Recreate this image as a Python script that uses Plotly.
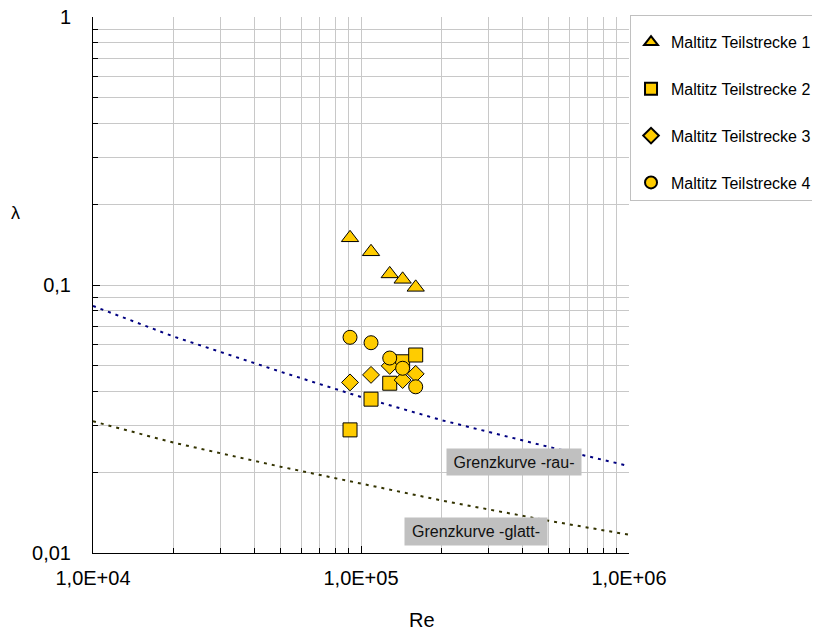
import plotly.graph_objects as go

# ---- data ----
re_meas = [91000, 109000, 128000, 143000, 160000]
lam_t1 = [0.150, 0.133, 0.110, 0.105, 0.098]
lam_t2 = [0.0288, 0.0375, 0.0430, 0.0517, 0.0548]
lam_t3 = [0.0433, 0.0462, 0.0499, 0.0442, 0.0466]
lam_t4 = [0.0638, 0.0609, 0.0534, 0.0489, 0.0417]

re_curve = [10000, 20000, 50000, 100000, 200000, 500000, 1000000]
lam_rau = [0.0835, 0.0642, 0.0475, 0.0382, 0.0313, 0.0249, 0.0211]
lam_glatt = [0.0310, 0.0258, 0.0210, 0.0181, 0.0157, 0.0132, 0.0117]

series_names = ["Maltitz Teilstrecke 1", "Maltitz Teilstrecke 2",
                "Maltitz Teilstrecke 3", "Maltitz Teilstrecke 4"]
series_vals = [lam_t1, lam_t2, lam_t3, lam_t4]
symbols = ["triangle-up", "square", "diamond", "circle"]
sizes = [15, 14, 13, 14]

x_tickvals = [1e4, 1e5, 1e6]
x_ticktext = ["1,0E+04", "1,0E+05", "1,0E+06"]
y_tickvals = [0.01, 0.1, 1]
y_ticktext = ["0,01", "0,1", "1"]

FONT = "Arial, 'Liberation Sans', sans-serif"

fig = go.Figure()
fig.add_trace(go.Scatter(x=re_curve, y=lam_rau, mode="lines", showlegend=False,
                         line=dict(color="#000080", width=2, dash="3px,5px"),
                         hoverinfo="skip"))
fig.add_trace(go.Scatter(x=re_curve, y=lam_glatt, mode="lines", showlegend=False,
                         line=dict(color="#333300", width=2, dash="3px,5px"),
                         hoverinfo="skip"))
for i, (nm, vals) in enumerate(zip(series_names, series_vals)):
    fig.add_trace(go.Scatter(
        x=re_meas, y=vals, mode="markers", name=nm, legendgroup=f"g{i}",
        marker=dict(symbol=symbols[i], size=sizes[i], color="#FFCC00",
                    line=dict(color="black", width=1))))

grid = "#c8c8c8"
fig.update_xaxes(type="log", range=[4, 6], tickmode="array",
                 tickvals=x_tickvals, ticktext=x_ticktext,
                 showline=True, linecolor="black", linewidth=1, mirror=False,
                 ticks="inside", ticklen=7, tickcolor="black",
                 showgrid=True, gridcolor=grid, gridwidth=1,
                 tickfont=dict(family=FONT, size=20, color="black"),
                 ticklabelstandoff=7, ticklabeloverflow="allow", zeroline=False,
                 minor=dict(dtick="D1", ticks="inside", ticklen=5, tickcolor="black",
                            showgrid=True, gridcolor=grid, gridwidth=1))
fig.update_yaxes(type="log", range=[-2, 0], tickmode="array",
                 tickvals=y_tickvals, ticktext=y_ticktext,
                 showline=True, linecolor="black", linewidth=1, mirror=False,
                 ticks="inside", ticklen=7, tickcolor="black",
                 showgrid=True, gridcolor=grid, gridwidth=1,
                 tickfont=dict(family=FONT, size=20, color="black"),
                 ticklabelstandoff=17, ticklabeloverflow="allow", zeroline=False,
                 minor=dict(dtick="D1", ticks="inside", ticklen=5, tickcolor="black",
                            showgrid=True, gridcolor=grid, gridwidth=1))

fig.add_annotation(text="Re", xref="paper", yref="paper", x=0.614, y=-0.125,
                   xanchor="center", yanchor="middle",
                   showarrow=False, font=dict(family=FONT, size=20, color="black"))
fig.add_annotation(text="λ", xref="paper", yref="paper", x=-0.1455, y=0.634,
                   xanchor="center", yanchor="middle",
                   showarrow=False, font=dict(family=FONT, size=18, color="black"))
fig.add_annotation(text="Grenzkurve -rau-", xref="paper", yref="paper", x=0.785, y=0.170,
                   xanchor="center", yanchor="middle",
                   showarrow=False, bgcolor="#c0c0c0", width=134, height=26, borderpad=0,
                   font=dict(family=FONT, size=16, color="#111"))
fig.add_annotation(text="Grenzkurve -glatt-", xref="paper", yref="paper", x=0.7146, y=0.040,
                   xanchor="center", yanchor="middle",
                   showarrow=False, bgcolor="#c0c0c0", width=142, height=27, borderpad=0,
                   font=dict(family=FONT, size=16, color="#111"))

fig.update_layout(
    width=820, height=632,
    margin=dict(l=85, r=199, t=9, b=87, autoexpand=False),
    paper_bgcolor="white", plot_bgcolor="white",
    font=dict(family=FONT, color="black"),
    legend=dict(x=1.0019, y=1.0037, xanchor="left", yanchor="top",
                bordercolor="#c0c0c0", borderwidth=1, bgcolor="white",
                font=dict(family=FONT, size=16, color="black"),
                title=dict(text=" ", font=dict(size=7)),
                tracegroupgap=23, itemsizing="constant"),
)

fig.write_html("out.html")
